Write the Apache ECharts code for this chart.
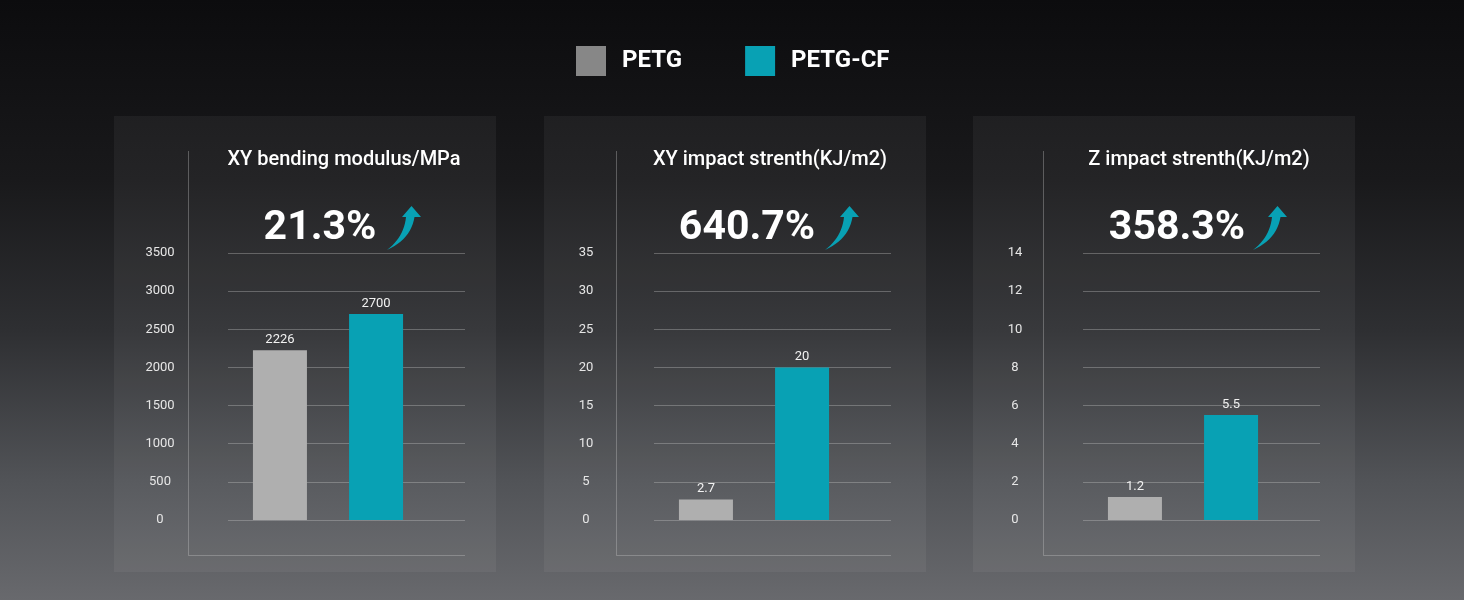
<!DOCTYPE html>
<html>
<head>
<meta charset="utf-8">
<script src="https://cdn.jsdelivr.net/npm/echarts@6/dist/echarts.min.js"></script>
<style>
  html, body { margin: 0; padding: 0; }
  #chart { width: 1464px; height: 600px; }
</style>
</head>
<body>
<div id="chart"></div>
<script>
// 数据
var categories = ['PETG', 'PETG-CF'];
var titles = ['XY bending modulus/MPa', 'XY impact strenth(KJ/m2)', 'Z impact strenth(KJ/m2)'];
var petgValues = [2226, 2.7, 1.2];
var petgCfValues = [2700, 20, 5.5];
var increases = ['21.3%', '640.7%', '358.3%'];
var axisMax = [3500, 35, 14];
var axisStep = [500, 5, 2];

// 布局
var gridLefts = [228, 654, 1083];
var panelLefts = [114, 544, 973];
var frameLefts = [188, 616, 1043];
var pctCenters = [320, 747, 1177];
var arrowLefts = [387, 825, 1253];
var gridTop = 253, gridHeight = 267;

var colors = { petg: '#afafaf', cf: '#08a1b4', line: 'rgba(200,200,200,0.35)' };
var font = 'Roboto, "Noto Sans", sans-serif';

// 弯箭头的轮廓（二次曲线取点）
function quad(p0, p1, p2, n) {
    var pts = [];
    for (var k = 0; k <= n; k++) {
        var t = k / n, u = 1 - t;
        pts.push([u * u * p0[0] + 2 * u * t * p1[0] + t * t * p2[0],
                  u * u * p0[1] + 2 * u * t * p1[1] + t * t * p2[1]]);
    }
    return pts;
}
var arrowShape = quad([0, 44], [24, 33], [27.5, 11], 12)
    .concat([[34, 11], [24.5, 0], [15, 11]])
    .concat(quad([19, 11], [17, 31], [0, 44], 12));

var myChart = echarts.init(document.getElementById('chart'));

var grids = [], xAxes = [], yAxes = [], series = [], graphics = [];

gridLefts.forEach(function (gl, i) {
    // 网格线和刻度
    grids.push({ left: gl, width: 237, top: gridTop, height: gridHeight });
    xAxes.push({ type: 'category', gridIndex: i * 2, data: [''], show: false });
    yAxes.push({
        type: 'value', gridIndex: i * 2, min: 0, max: axisMax[i], interval: axisStep[i],
        axisLine: { show: false }, axisTick: { show: false },
        axisLabel: {
            margin: 68, align: 'center', color: '#e6e6e6', fontSize: 13, fontFamily: font,
            formatter: function (v) { return String(v); }
        },
        splitLine: { lineStyle: { color: colors.line, width: 1 } }
    });
    // 柱子
    grids.push({ left: gl, width: 200, top: gridTop, height: gridHeight });
    xAxes.push({ type: 'category', gridIndex: i * 2 + 1, data: [titles[i]], show: false });
    yAxes.push({ type: 'value', gridIndex: i * 2 + 1, min: 0, max: axisMax[i], show: false });

    var label = { show: true, position: 'top', distance: 4, color: '#f2f2f2', fontSize: 13, fontFamily: font };
    series.push({
        name: categories[0], type: 'bar', xAxisIndex: i * 2 + 1, yAxisIndex: i * 2 + 1,
        data: [petgValues[i]], barWidth: 54, barGap: '78%',
        itemStyle: { color: colors.petg }, label: label
    });
    series.push({
        name: categories[1], type: 'bar', xAxisIndex: i * 2 + 1, yAxisIndex: i * 2 + 1,
        data: [petgCfValues[i]], barWidth: 54, barGap: '78%',
        itemStyle: { color: colors.cf }, label: label
    });

    // 面板背景和边框
    graphics.push({
        type: 'rect', z: -10, silent: true,
        shape: { x: panelLefts[i], y: 116, width: 382, height: 456 },
        style: { fill: 'rgba(255,255,255,0.05)' }
    });
    graphics.push({
        type: 'polyline', silent: true,
        shape: { points: [[frameLefts[i] + 0.5, 151], [frameLefts[i] + 0.5, 555.5], [gl + 237, 555.5]] },
        style: { stroke: colors.line, lineWidth: 1, fill: null }
    });
    graphics.push({
        type: 'text', silent: true, x: gl + 116, y: 160,
        style: { text: titles[i], fill: '#ffffff', font: '500 20px ' + font, textAlign: 'center', textVerticalAlign: 'middle' }
    });
    graphics.push({
        type: 'text', silent: true, x: pctCenters[i], y: 229,
        style: { text: increases[i], fill: '#ffffff', font: 'bold 41px ' + font, textAlign: 'center', textVerticalAlign: 'middle' }
    });
    graphics.push({
        type: 'polygon', silent: true, x: arrowLefts[i], y: 206,
        shape: { points: arrowShape },
        style: { fill: colors.cf }
    });
});

var option = {
    backgroundColor: {
        type: 'linear', x: 0, y: 0, x2: 0, y2: 1,
        colorStops: [
            { offset: 0, color: '#0c0c0e' },
            { offset: 0.3, color: '#19191b' },
            { offset: 0.55, color: '#2e2f32' },
            { offset: 0.8, color: '#515357' },
            { offset: 1, color: '#68696d' }
        ]
    },
    animation: false,
    legend: {
        left: 576, top: 46, padding: 0,
        itemWidth: 30, itemHeight: 30, itemGap: 63, icon: 'rect',
        textStyle: { color: '#ffffff', fontSize: 24, fontWeight: 'bold', fontFamily: font, padding: [3, 0, 0, 11] },
        data: [
            { name: categories[0], itemStyle: { color: '#878787' } },
            { name: categories[1], itemStyle: { color: colors.cf } }
        ],
        selectedMode: false
    },
    grid: grids,
    xAxis: xAxes,
    yAxis: yAxes,
    series: series,
    graphic: graphics
};

myChart.setOption(option);
</script>
</body>
</html>
